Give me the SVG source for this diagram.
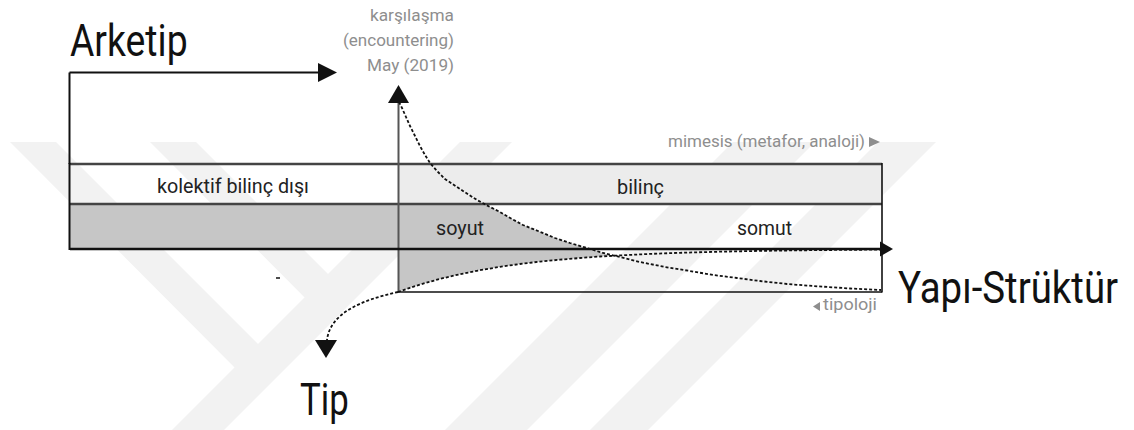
<svg xmlns="http://www.w3.org/2000/svg" width="1134" height="430" viewBox="0 0 1134 430">
<style>
.big{font-family:Roboto,"Liberation Sans",sans-serif;font-size:44px;fill:#111}
.mid{font-family:Roboto,"Liberation Sans",sans-serif;font-size:21px;fill:#222}
.note{font-family:Roboto,"Liberation Sans",sans-serif;font-size:16px;fill:#8e8e8e}
.wm{fill:#f2f2f2}
.solid{stroke:#111;stroke-width:2;fill:none}
.dash{stroke:#111;stroke-width:1.8;fill:none;stroke-dasharray:3 2}
.head{fill:#111}
</style>
<rect width="1134" height="430" fill="#fff"/>
<g id="watermark">
<polygon class="wm" points="10,142 56,142 280,366 257,390"/>
<polygon class="wm" points="150,142 196,142 352,298 329,322"/>
<polygon class="wm" points="460,142 512,142 224,430 172,430"/>
<polygon class="wm" points="733,142 815,142 527,430 445,430"/>
<polygon class="wm" points="878,142 936,142 648,430 590,430"/>
</g>
<g id="band">
<rect x="398" y="164" width="484" height="40" fill="#ececec"/>
<rect x="70" y="204" width="328" height="45" fill="#c6c6c6"/>
<polygon fill="#c6c6c6" points="398,204 484,204 490,207 500,212 512,219 523,225 538,231 555,238 570,243 587,248 603,253 612,255.5 600,256.5 580,258 560,259.7 540,261.6 520,264 500,266.8 480,270.2 460,274.2 440,278.9 425,283.1 410,287.8 398,292"/>
<line x1="70" y1="164" x2="882" y2="164" stroke="#444" stroke-width="2.5"/>
<line x1="70" y1="204" x2="882" y2="204" stroke="#444" stroke-width="2.5"/>
<line x1="882" y1="163" x2="882" y2="292.5" stroke="#111" stroke-width="1.6"/>
<line x1="398" y1="292" x2="882" y2="292" stroke="#111" stroke-width="1.6"/>
<line x1="69.5" y1="163" x2="69.5" y2="250" stroke="#111" stroke-width="2"/>
</g>
<g id="connectors">
<line class="solid" x1="69.5" y1="72.5" x2="69.5" y2="164"/>
<line class="solid" x1="69.5" y1="72.5" x2="320" y2="72.5"/>
<polygon class="head" points="318,63 337,72.5 318,82"/>
<line x1="398.5" y1="100" x2="398.5" y2="292" stroke="#555" stroke-width="2"/>
<polygon class="head" points="388,103 409,103 398.5,85"/>
<line x1="70" y1="249" x2="882" y2="249" stroke="#111" stroke-width="2.5"/>
<polygon class="head" points="880,241.5 893,249 880,256.5"/>
<polyline class="dash" points="399,102 402,108 406,117 410,126 415,136 420,146 425,155 430,163 437,171 445,179 454,185 463,191 477,200 490,207 500,212 512,219 523,225 538,231 555,238 570,243 587,248 603,253 620,257 640,262 665,267 690,271 713,275 737,278 760,281 787,284 813,286 850,288.5 881,290"/>
<polyline class="dash" points="398,292 410,287.8 425,283.1 440,278.9 460,274.2 480,270.2 500,266.8 520,264 540,261.6 560,259.7 580,258 600,256.5 620,255.4 650,253.9 680,252.8 720,251.7 760,250.9 800,250.3 840,249.9 880,249.6"/>
<path class="dash" d="M398,292 C362,300 330,313 327,340"/>
<polygon class="head" points="315,340 337,340 326,358"/>
<line x1="276" y1="278" x2="280" y2="278" stroke="#111" stroke-width="1.5"/>
</g>
<g id="arketip"><text class="big" transform="translate(70 55.5) scale(0.84 1)" x="0" y="0" textLength="140" lengthAdjust="spacingAndGlyphs">Arketip</text></g>
<g id="tip"><text class="big" transform="translate(300 415) scale(0.84 1)" x="0" y="0" textLength="58" lengthAdjust="spacingAndGlyphs">Tip</text></g>
<g id="yapi"><text class="big" transform="translate(898 303) scale(0.84 1)" x="0" y="0" textLength="262" lengthAdjust="spacingAndGlyphs">Yapı-Strüktür</text></g>
<g id="karsilasma">
<text class="note" x="370" y="21" textLength="84" lengthAdjust="spacingAndGlyphs">karşılaşma</text>
<text class="note" x="343" y="46" textLength="111" lengthAdjust="spacingAndGlyphs">(encountering)</text>
<text class="note" x="367" y="71" textLength="87" lengthAdjust="spacingAndGlyphs">May (2019)</text>
</g>
<g id="mimesis">
<text class="note" x="668" y="147" textLength="197" lengthAdjust="spacingAndGlyphs">mimesis (metafor, analoji)</text>
<polygon fill="#8e8e8e" points="869,137 880,142 869,147"/>
</g>
<g id="tipoloji">
<polygon fill="#8e8e8e" points="820,302 813,306.5 820,311"/>
<text class="note" x="823" y="310" font-size="15" textLength="54" lengthAdjust="spacingAndGlyphs">tipoloji</text>
</g>
<g id="kolektif"><text class="mid" x="157" y="193" textLength="152" lengthAdjust="spacingAndGlyphs">kolektif bilinç dışı</text></g>
<g id="bilinc"><text class="mid" x="617" y="194" textLength="47" lengthAdjust="spacingAndGlyphs">bilinç</text></g>
<g id="soyut"><text class="mid" x="436" y="235" textLength="48" lengthAdjust="spacingAndGlyphs">soyut</text></g>
<g id="somut"><text class="mid" x="737" y="235" textLength="55" lengthAdjust="spacingAndGlyphs">somut</text></g>
</svg>
